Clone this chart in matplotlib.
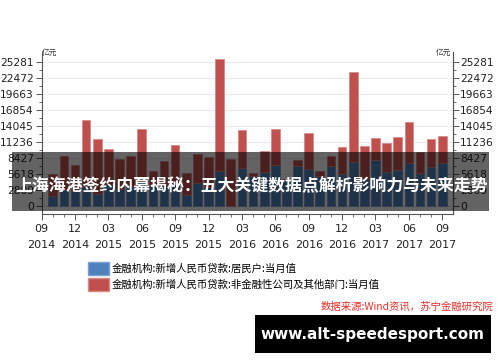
import matplotlib
matplotlib.use("Agg")
import matplotlib.pyplot as plt
from matplotlib.patches import Rectangle, Patch
from matplotlib.ticker import MultipleLocator, FixedLocator
import numpy as np

CJK = ['Noto Sans CJK SC', 'DejaVu Sans']

# ---- data (亿元), Oct 2014 .. Sep 2017 ----
household = [1700, 2700, 2600, 3400, 2100, 3800, 3000, 3500, 4300, 3600, 3500, 4000,
             1900, 4000, 3300, 6150, 0, 6560, 5300, 5860, 7200, 4550, 6970, 6420,
             5150, 6970, 5600, 7730, 4600, 8030, 5970, 6270, 7580, 5750, 6740, 7580]
corporate = [3870, 6030, 4490, 11700, 9560, 6210, 5200, 5230, 9170, 2490, 4400, 6660,
             3840, 5080, 5230, 19610, 8220, 6730, 500, 3740, 6270, 150, 1060, 6400,
             940, 1760, 4700, 15800, 5910, 3800, 5040, 5790, 7060, 3700, 4920, 4660]
tick_months = ["09", "12", "03", "06", "09", "12", "03", "06", "09", "12", "03", "06", "09"]
tick_years = ["2014", "2014", "2015", "2015", "2015", "2015", "2016", "2016", "2016",
              "2016", "2017", "2017", "2017"]
y_ticks = [0, 2809, 5618, 8427, 11236, 14045, 16854, 19663, 22472, 25281]
legend_labels = ["金融机构:新增人民币贷款:居民户:当月值",
                 "金融机构:新增人民币贷款:非金融性公司及其他部门:当月值"]
title = "上海海港签约内幕揭秘：五大关键数据点解析影响力与未来走势"
source = "数据来源:Wind资讯，苏宁金融研究院"
watermark = "www.alt-speedesport.com"

W, H = 500, 362
fig = plt.figure(figsize=(W / 100, H / 100), dpi=100)
fig.patch.set_facecolor('white')

def fx(x): return x / W
def fy(y): return 1 - y / H

ax = fig.add_axes([fx(41.6), fy(214), (452.7 - 41.6) / W, (214 - 52) / H])
x = np.arange(1, len(household) + 1)
blue = '#4f81bd'
red = '#c0504d'
ax.bar(x, household, width=0.78, color=blue, edgecolor='#7b9fcf', linewidth=0.6, zorder=3)
ax.bar(x, corporate, width=0.78, bottom=household, color=red, edgecolor='#d88a88',
       linewidth=0.6, zorder=3)

ax.set_xlim(0, 36.94)
ax.set_ylim(-1457, 26984)
ax.set_yticks(y_ticks)
ax.yaxis.set_minor_locator(FixedLocator([v + 1404.5 for v in y_ticks[:-1]]))
ax.set_xticks(np.arange(0, 37, 3))
ax.set_xticklabels([f"{m}\n{yy}" for m, yy in zip(tick_months, tick_years)],
                   linespacing=1.75)
ax.xaxis.set_minor_locator(MultipleLocator(1))
ax.grid(axis='y', color='#ececec', linewidth=0.8, zorder=0)
ax.set_axisbelow(True)

ax.spines['top'].set_visible(False)
for s in ['left', 'right', 'bottom']:
    ax.spines[s].set_color('#555555')
    ax.spines[s].set_linewidth(0.8)

ax.tick_params(axis='y', which='major', length=4, width=0.7, colors='#555555',
               labelcolor='#222222', labelsize=7.7, pad=1.5)
ax.tick_params(axis='y', which='minor', length=2, width=0.6, colors='#555555')
ax.tick_params(axis='x', which='major', length=4, width=0.7, colors='#555555',
               labelcolor='#222222', labelsize=8, pad=3)
ax.tick_params(axis='x', which='minor', length=2, width=0.6, colors='#555555')

ax2 = ax.twinx()
ax2.set_ylim(ax.get_ylim())
ax2.set_yticks(y_ticks)
ax2.yaxis.set_minor_locator(FixedLocator([v + 1404.5 for v in y_ticks[:-1]]))
ax2.tick_params(axis='y', which='major', length=4, width=0.7, colors='#555555',
                labelcolor='#222222', labelsize=7.7, pad=1.5)
ax2.tick_params(axis='y', which='minor', length=2, width=0.6, colors='#555555')
for s in ['top', 'left', 'bottom']:
    ax2.spines[s].set_visible(False)
ax2.spines['right'].set_color('#555555')
ax2.spines['right'].set_linewidth(0.8)

# unit labels
fig.text(fx(42), fy(53), "亿元", family=CJK, fontsize=5.5, color='#333333',
         ha='left', va='center')
fig.text(fx(451), fy(53), "亿元", family=CJK, fontsize=5.5, color='#333333',
         ha='right', va='center')

# legend
handles = [Patch(facecolor=blue, edgecolor='#7b9fcf'), Patch(facecolor=red, edgecolor='#d88a88')]
fig.legend(handles, legend_labels, loc='upper left', bbox_to_anchor=(fx(81), fy(255)),
           frameon=False, prop={'family': CJK, 'size': 7.5}, handlelength=1.95,
           handleheight=1.45, labelspacing=0.35, handletextpad=0.3, borderpad=0.2)

# source
fig.text(fx(493), fy(306.7), source, family=CJK, fontsize=7.5, color='#e8302a',
         ha='right', va='center', style='italic')

# overlay banner with title
fig.add_artist(Rectangle((fx(12), fy(211)), 477 / W, 59 / H, transform=fig.transFigure,
                         facecolor='black', edgecolor='none', alpha=0.61, zorder=10))
fig.text(fx(251.5), fy(186.5), title, family=CJK, fontsize=12.2, fontweight='bold',
         color='white', ha='center', va='center', zorder=11)

# watermark
fig.add_artist(Rectangle((fx(255), fy(352.7)), (490.7 - 255) / W, (352.7 - 315) / H,
                         transform=fig.transFigure, facecolor='black', edgecolor='none',
                         zorder=10))
fig.text(fx(372.5), fy(334), watermark, family=['DejaVu Sans'], fontsize=11,
         fontweight='bold', color='white', ha='center', va='center', zorder=11)

fig.savefig("out.png", dpi=100)
